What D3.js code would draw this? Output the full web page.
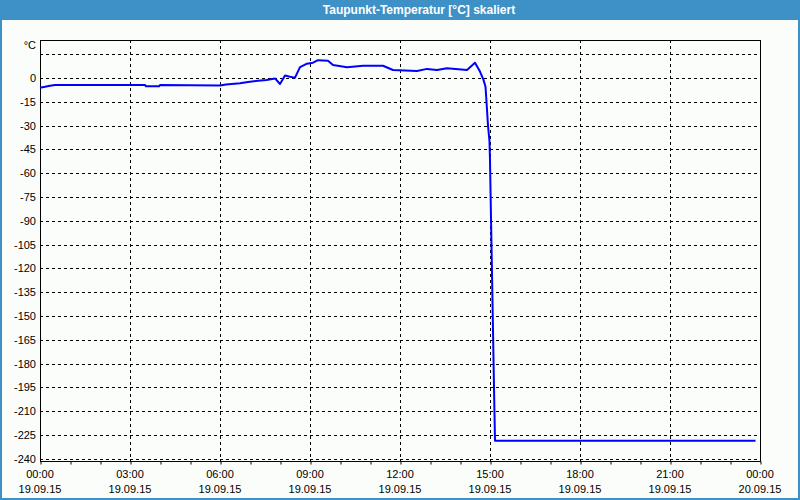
<!DOCTYPE html>
<html>
<head>
<meta charset="utf-8">
<script src="https://cdn.jsdelivr.net/npm/d3@7"></script>
<style>
  html, body { margin: 0; padding: 0; background: #fbfdfb; }
  svg { display: block; }
</style>
</head>
<body>
<svg id="chart" width="800" height="500"></svg>
<script>
const title = "Taupunkt-Temperatur [°C] skaliert";
const unitLabel = "°C";
const times = ["00:00","00:10","00:20","00:30","03:30","03:32","03:58","04:00","06:00","06:12","06:40","06:56","07:16","07:33","07:50","08:00","08:10","08:20","08:30","08:40","08:54","09:06","09:16","09:36","09:46","10:14","10:46","11:26","11:46","12:34","12:54","13:14","13:34","14:14","14:30","14:40","14:47","14:51","14:53","14:56","14:59","15:00","15:02","15:04","15:06","15:08","15:10","23:51"];
const values = [-6.2,-5.6,-4.9,-4.5,-4.4,-5.3,-5.3,-4.5,-4.8,-4.2,-3.4,-2.5,-1.7,-1.3,-0.3,-3.8,1.5,0.8,0.2,6.8,9.0,9.6,11.2,10.9,8.2,6.7,7.7,7.7,5.0,4.4,5.7,5.0,6.1,5.0,9.6,4.0,-1.2,-5.5,-15,-30,-40,-52,-88,-123,-159,-195,-228.6,-228.6];
const yTicks = [15,0,-15,-30,-45,-60,-75,-90,-105,-120,-135,-150,-165,-180,-195,-210,-225,-240];
const yLabelTicks = [0,-15,-30,-45,-60,-75,-90,-105,-120,-135,-150,-165,-180,-195,-210,-225,-240];
const xLabelHours = [0,3,6,9,12,15,18,21,24];
const startDate = new Date(2015, 8, 19, 0, 0);
const endDate = new Date(2015, 8, 20, 0, 0);

const svg = d3.select("#chart");
const W = 800, H = 500;
const L = 40, R = 760, T = 40, B = 461;
const font = "'Liberation Sans', Arial, sans-serif";

// background
svg.append("rect").attr("x",0).attr("y",0).attr("width",W).attr("height",H).attr("fill","#fbfdfb");
// title bar
svg.append("rect").attr("x",0).attr("y",0).attr("width",W).attr("height",20).attr("fill","#3d91c6");
// frame borders
svg.append("rect").attr("x",0).attr("y",0).attr("width",2).attr("height",H).attr("fill","#3d91c6");
svg.append("rect").attr("x",W-2).attr("y",0).attr("width",2).attr("height",H).attr("fill","#3d91c6");
svg.append("rect").attr("x",0).attr("y",H-2).attr("width",W).attr("height",2).attr("fill","#3d91c6");
svg.append("text").attr("x",419).attr("y",14).attr("text-anchor","middle")
  .attr("font-family",font).attr("font-weight","bold").attr("font-size","12px")
  .attr("fill","#ffffff").text(title);

const x = d3.scaleTime().domain([startDate, endDate]).range([L, R]);
const y = d3.scaleLinear().domain([-241.3, 23.9]).range([B, T]);

const parse = s => { const [h,m] = s.split(":").map(Number); return new Date(2015, 8, 19, h, m); };
const data = times.map((t,i) => ({t: parse(t), v: values[i]}));

// horizontal gridlines
svg.append("g").selectAll("line").data(yTicks).join("line")
  .attr("x1", L).attr("x2", R)
  .attr("y1", d => Math.round(y(d)) + 0.5).attr("y2", d => Math.round(y(d)) + 0.5)
  .attr("stroke","#000").attr("stroke-width",1).attr("stroke-dasharray","3,3");

// vertical gridlines
const gridHours = [3,6,9,12,15,18,21];
svg.append("g").selectAll("line").data(gridHours).join("line")
  .attr("x1", d => Math.round(x(d3.timeHour.offset(startDate, d))) + 0.5)
  .attr("x2", d => Math.round(x(d3.timeHour.offset(startDate, d))) + 0.5)
  .attr("y1", T).attr("y2", B)
  .attr("stroke","#000").attr("stroke-width",1).attr("stroke-dasharray","3,3");

// x axis ticks (hourly)
const xAxis = d3.axisBottom(x).ticks(d3.timeHour.every(1)).tickSize(3).tickSizeOuter(0).tickFormat("");
const gx = svg.append("g").attr("transform", `translate(0.5,${B}.5)`).call(xAxis);
gx.select(".domain").remove();
gx.selectAll("line").attr("stroke","#000");

// frame
svg.append("rect").attr("x", L + 0.5).attr("y", T + 0.5).attr("width", R - L).attr("height", B - T)
  .attr("fill","none").attr("stroke","#000").attr("stroke-width",1);

// y labels
svg.append("g").selectAll("text").data(yLabelTicks).join("text")
  .attr("x", 36).attr("y", d => y(d) + 4)
  .attr("text-anchor","end").attr("font-family",font).attr("font-size","11px").attr("fill","#000")
  .text(d => d);
svg.append("text").attr("x",36).attr("y",49).attr("text-anchor","end")
  .attr("font-family",font).attr("font-size","11px").attr("fill","#000").text(unitLabel);

// x labels
const fmtT = d3.timeFormat("%H:%M"), fmtD = d3.timeFormat("%d.%m.%y");
const xl = svg.append("g").selectAll("g").data(xLabelHours).join("g");
xl.append("text").attr("x", d => x(d3.timeHour.offset(startDate, d))).attr("y", 478)
  .attr("text-anchor","middle").attr("font-family",font).attr("font-size","11px").attr("fill","#000")
  .text(d => fmtT(d3.timeHour.offset(startDate, d)));
xl.append("text").attr("x", d => x(d3.timeHour.offset(startDate, d))).attr("y", 493)
  .attr("text-anchor","middle").attr("font-family",font).attr("font-size","11px").attr("fill","#000")
  .text(d => fmtD(d3.timeHour.offset(startDate, d)));

// data line
const line = d3.line().x(d => x(d.t)).y(d => y(d.v));
svg.append("path").datum(data).attr("d", line)
  .attr("fill","none").attr("stroke","#0000ff").attr("stroke-width",2).attr("stroke-linejoin","round");
</script>
</body>
</html>
